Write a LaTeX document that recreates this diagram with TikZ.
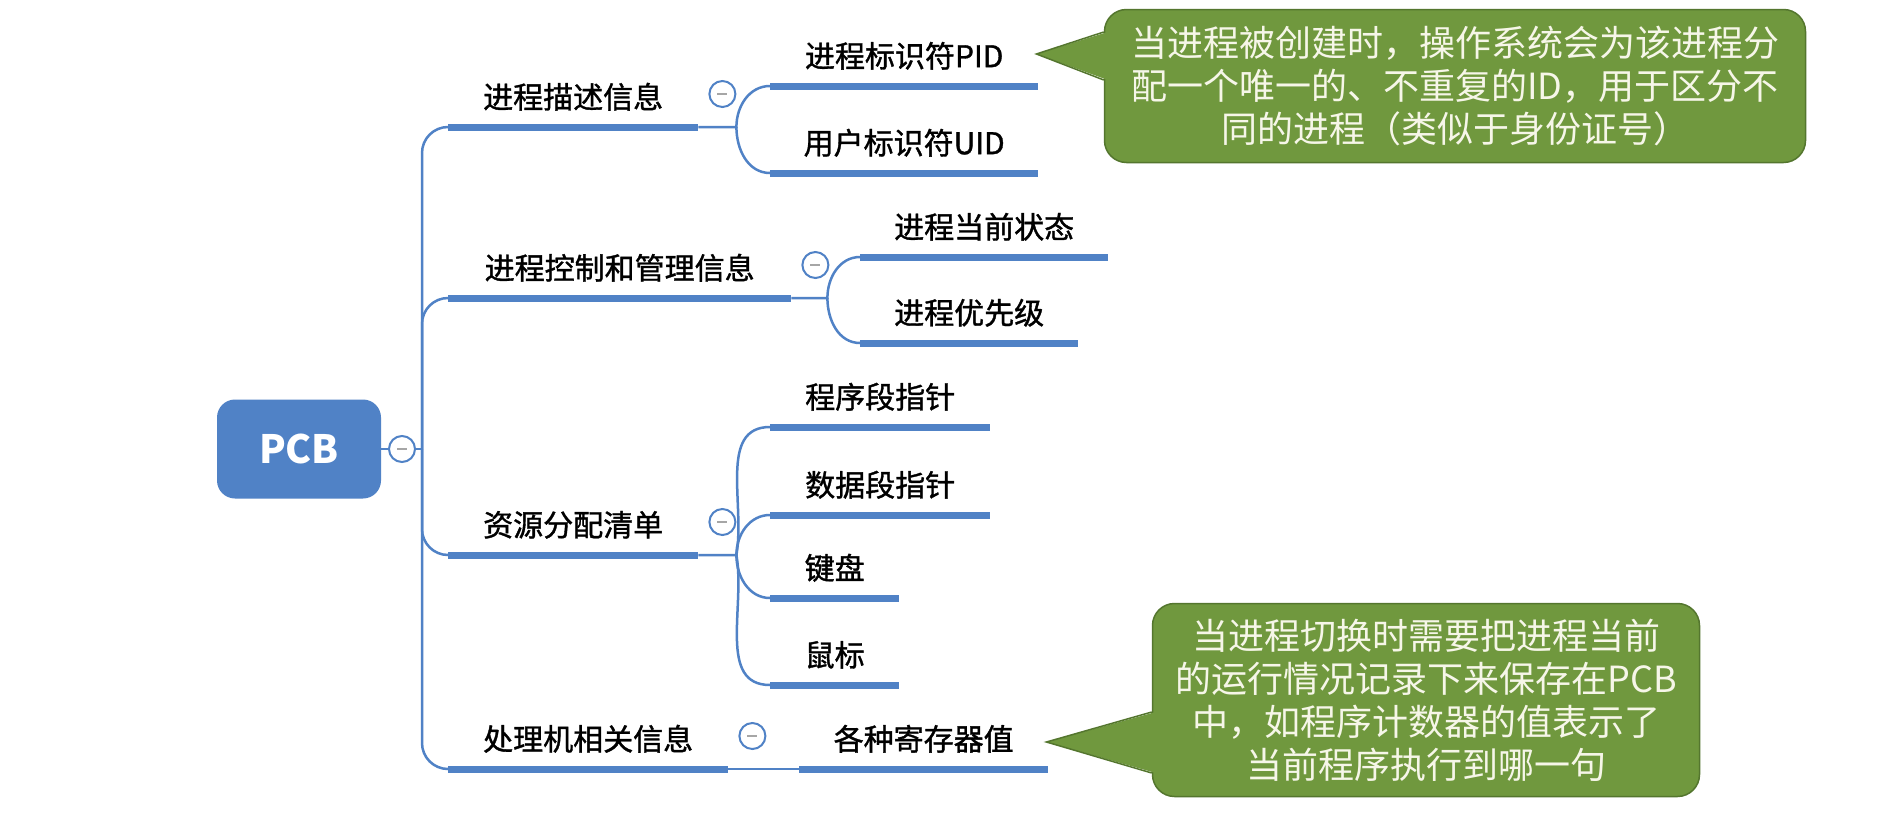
\documentclass[tikz,border=0pt]{standalone}
\usepackage{fontspec}
\setmainfont{Noto Sans CJK SC}
\newfontfamily\mapfont{Noto Sans CJK SC}[FakeBold=1.2]
\definecolor{mapblue}{RGB}{80,130,198}
\definecolor{notegreen}{RGB}{112,152,62}
\definecolor{noteedge}{RGB}{84,118,46}
\definecolor{notetext}{RGB}{246,246,232}

\begin{document}
\begin{tikzpicture}[
  x=1pt, y=1pt,
  root/.style = {
    rectangle, rounded corners=18pt, fill=mapblue, text=white,
    minimum width=164pt, minimum height=99pt,
    font=\fontsize{39}{44}\selectfont\bfseries,
  },
  topic/.style = {
    inner sep=0pt, anchor=south west, minimum height=60pt,
    minimum width=#1, font=\mapfont\fontsize{30}{36}\selectfont,
  },
  uline/.style = {line width=7pt, draw=mapblue},
  link/.style = {line width=2.5pt, draw=mapblue},
  fold/.style = {
    circle, draw=mapblue, line width=2pt, fill=white,
    minimum size=26pt, inner sep=0pt,
    path picture={\draw[black!35, line width=2pt]
      ([xshift=-5pt]path picture bounding box.center) --
      ([xshift=5pt]path picture bounding box.center);},
  },
  note/.style = {
    rectangle, rounded corners=22pt, fill=notegreen, draw=noteedge,
    line width=1.5pt, text=notetext, align=center,
    font=\fontsize{36}{43}\selectfont,
  },
  beak/.style = {fill=notegreen},
  beakedge/.style = {draw=noteedge, line width=1.5pt},
]
  \path[use as bounding box, fill=white] (0,0) rectangle (1893,-814);

  % root and hub
  \node[root] (pcb) at (299,-449) {PCB};
  \node[fold] (pcbfold) at (402,-449) {};
  \coordinate (hub) at (422,-449);

  % first level
  \node[topic=250pt] (desc) at (448,-127) {进程描述信息};
  \node[topic=343pt] (ctrl) at (448,-298) {进程控制和管理信息};
  \node[topic=250pt] (res)  at (448,-555) {资源分配清单};
  \node[topic=280pt] (cpu)  at (448,-769) {处理机相关信息};

  % second level
  \node[topic=268pt] (pid)   at (770,-86)  {进程标识符PID};
  \node[topic=268pt] (uid)   at (770,-173) {用户标识符UID};
  \node[topic=248pt] (state) at (860,-257) {进程当前状态};
  \node[topic=218pt] (prio)  at (860,-343) {进程优先级};
  \node[topic=220pt] (code)  at (770,-427) {程序段指针};
  \node[topic=220pt] (data)  at (770,-515) {数据段指针};
  \node[topic=129pt] (kbd)   at (770,-598) {键盘};
  \node[topic=129pt] (mouse) at (770,-685) {鼠标};
  \node[topic=249pt] (reg)   at (799,-769) {各种寄存器值};

  \foreach \t in {desc,ctrl,res,cpu,pid,uid,state,prio,code,data,kbd,mouse,reg}
    \draw[uline] (\t.south west) -- (\t.south east);

  % fold buttons
  \foreach \t in {desc,ctrl,res,cpu}
    \node[fold] (\t fold) at ([shift={(24,33)}]\t.south east) {};

  % connectors
  \draw[link] (pcb) -- (pcbfold);
  \draw[link] (pcbfold) -- (hub);
  \foreach \t in {desc,ctrl,res,cpu}
    \draw[link, rounded corners=26pt] (hub) |- (\t.south west);

  \coordinate (descj) at ([xshift=38pt]desc.south east);
  \draw[link] (desc.south east) -- (descj) to[out=90,in=180] (pid.south west);
  \draw[link] (descj) to[out=-90,in=180] (uid.south west);

  \coordinate (ctrlj) at ([xshift=36pt]ctrl.south east);
  \draw[link] (ctrl.south east) -- (ctrlj) to[out=90,in=180] (state.south west);
  \draw[link] (ctrlj) to[out=-90,in=180] (prio.south west);

  \coordinate (resj) at ([xshift=38pt]res.south east);
  \draw[link] (res.south east) -- (resj) to[out=80,in=180] (code.south west);
  \draw[link] (resj) to[out=90,in=180] (data.south west);
  \draw[link] (resj) to[out=-90,in=180] (kbd.south west);
  \draw[link] (resj) to[out=-80,in=180] (mouse.south west);

  \draw[link] (cpu.south east) -- (reg.south west);

  % callouts
  \node[note, minimum width=701pt, minimum height=153pt] (pidnote) at (1455,-86)
    {当进程被创建时，操作系统会为该进程分\\配一个唯一的、不重复的ID，用于区分不\\同的进程（类似于身份证号）};
  \coordinate (pidtip) at ([shift={(-2,32)}]pid.south east);
  \fill[beak] (pidtip) -- ([shift={(4,54)}]pidnote.west) -- ([shift={(4,6)}]pidnote.west) -- cycle;
  \draw[beakedge] ([yshift=54pt]pidnote.west) -- (pidtip) -- ([yshift=6pt]pidnote.west);

  \node[note, minimum width=547pt, minimum height=193pt] (regnote) at (1426,-700)
    {当进程切换时需要把进程当前\\的运行情况记录下来保存在PCB\\中，如程序计数器的值表示了\\当前程序执行到哪一句};
  \coordinate (regtip) at ([shift={(-2,27)}]reg.south east);
  \fill[beak] (regtip) -- ([shift={(4,-12)}]regnote.west) -- ([shift={(4,-73)}]regnote.west) -- cycle;
  \draw[beakedge] ([yshift=-12pt]regnote.west) -- (regtip) -- ([yshift=-73pt]regnote.west);
\end{tikzpicture}
\end{document}
